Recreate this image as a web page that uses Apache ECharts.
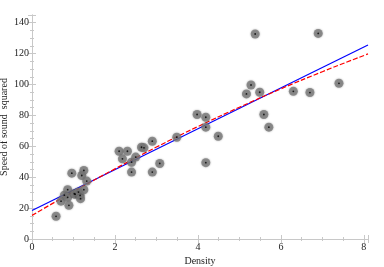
<!DOCTYPE html>
<html>
<head>
<meta charset="utf-8">
<script src="https://cdn.jsdelivr.net/npm/echarts@6/dist/echarts.min.js"></script>
<style>html,body{margin:0;padding:0;background:#fff}#c{width:384px;height:267px}</style>
</head>
<body>
<div id="c"></div>
<script>
var density = [0.58, 0.70, 0.78, 0.86, 0.86, 0.89, 0.96, 1.02, 1.04, 1.12, 1.16, 1.17, 1.20, 1.25, 1.25, 1.32,
  2.10, 2.18, 2.30, 2.40, 2.40, 2.50, 2.64, 2.70, 2.90, 2.90, 3.08, 3.49, 3.98, 4.19, 4.19, 4.19, 4.49,
  5.17, 5.28, 5.38, 5.49, 5.59, 5.71, 6.30, 6.70, 6.90, 7.40];
var speedSq = [14.7, 24.5, 28.4, 31.9, 27.0, 21.8, 42.6, 29.3, 29.0, 30.4, 28.2, 26.1, 41.1, 44.4, 31.9, 37.5,
  56.8, 51.9, 56.8, 49.7, 43.3, 53.0, 59.4, 59.0, 63.3, 43.3, 48.9, 65.9, 80.6, 78.8, 72.4, 49.4, 66.5,
  93.9, 99.7, 132.7, 95.0, 80.6, 72.4, 95.6, 94.8, 133.1, 100.8];
var blueX = [0, 8.1];
var blueY = [18.5, 125.6];
var redX = [0, 1, 2, 3, 4, 5, 6, 7, 8.1];
var redY = [15.3, 30.7, 45.4, 59.5, 72.8, 85.3, 97.2, 108.3, 119.8];
var xTicks = [0, 2, 4, 6, 8];
var yTicks = [0, 20, 40, 60, 80, 100, 120, 140];

var pts = density.map(function (d, i) { return [d, speedSq[i]]; });
var blue = blueX.map(function (x, i) { return [x, blueY[i]]; });
var red = redX.map(function (x, i) { return [x, redY[i]]; });

var font = 'Liberation Serif';
var frame = '#c8c8c8';
function axisBase(show) {
  return {
    axisLine: { show: true, lineStyle: { color: frame, width: 1 } },
    axisTick: { show: true, inside: true, length: 4, lineStyle: { color: frame } },
    minorTick: { show: true, splitNumber: 4, length: 2, lineStyle: { color: frame } },
    splitLine: { show: false },
    axisLabel: { show: show }
  };
}
var xb = axisBase(true), xt = axisBase(false), yl = axisBase(true), yr = axisBase(false);
var chart = echarts.init(document.getElementById('c'));
chart.setOption({
  animation: false,
  backgroundColor: '#fff',
  grid: { left: 32, right: 16, top: 15, bottom: 28, containLabel: false, outerBoundsMode: 'none' },
  xAxis: [
    Object.assign(xb, {
      type: 'value', min: 0, max: 8.1, interval: 2, position: 'bottom',
      name: 'Density', nameLocation: 'middle', nameGap: 17, nameMoveOverlap: false,
      nameTextStyle: { fontFamily: font, fontSize: 10, color: '#222' },
      axisLabel: { show: true, margin: 3, fontFamily: font, fontSize: 10, color: '#222',
        formatter: function (v) { return xTicks.indexOf(v) >= 0 ? String(v) : ''; } }
    }),
    Object.assign(xt, { type: 'value', min: 0, max: 8.1, interval: 2, position: 'top' })
  ],
  yAxis: [
    Object.assign(yl, {
      type: 'value', min: 0, max: 145, interval: 20, position: 'left',
      name: 'Speed of sound  squared', nameLocation: 'middle', nameGap: 23, nameMoveOverlap: false,
      nameTextStyle: { fontFamily: font, fontSize: 10, color: '#222' },
      axisLabel: { show: true, margin: 3, fontFamily: font, fontSize: 10, color: '#222',
        formatter: function (v) { return yTicks.indexOf(v) >= 0 ? String(v) : ''; } }
    }),
    Object.assign(yr, { type: 'value', min: 0, max: 145, interval: 20, position: 'right' })
  ],
  series: [
    { type: 'line', data: blue, symbol: 'none', lineStyle: { color: '#0000ff', width: 1.2 }, z: 3 },
    { type: 'line', data: red, symbol: 'none', smooth: true, lineStyle: { color: '#ff0000', width: 1.2, type: [5, 2] }, z: 4 },
    { type: 'scatter', data: pts, symbolSize: 9, itemStyle: { color: '#7a7a7a', shadowBlur: 2, shadowColor: 'rgba(0,0,0,0.4)' }, z: 5 },
    { type: 'scatter', data: pts, symbolSize: 1.8, itemStyle: { color: '#000' }, z: 6 }
  ]
});
</script>
</body>
</html>
